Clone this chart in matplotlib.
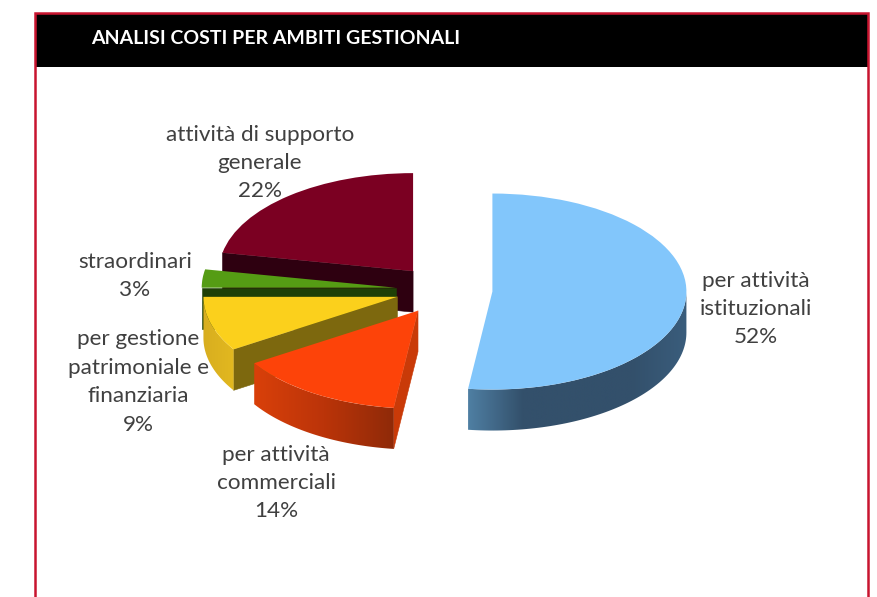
import numpy as np
import matplotlib
matplotlib.use('Agg')
import matplotlib.pyplot as plt
from matplotlib.colors import LinearSegmentedColormap
from matplotlib.patches import Polygon, Rectangle

plt.rcParams['font.family'] = ['Lato', 'DejaVu Sans']

titolo = 'ANALISI COSTI PER AMBITI GESTIONALI'

# clockwise from twelve o'clock, like the spreadsheet pie
ambiti = ['per attività\nistituzionali', 'per attività\ncommerciali',
          'per gestione\npatrimoniale e\nfinanziaria', 'straordinari',
          'attività di supporto\ngenerale']
valori = [52, 14, 9, 3, 22]
esplosione = [0.25, 0.25, 0.25, 0.25, 0.25]

colori = ['#82c6fb', '#fd4309', '#fbd01c', '#559c14', '#7b0022']
colori_taglio = ['#33506b', '#c93a08', '#7d680e', '#1f4006', '#2e0010']
colori_bordo = [['#4f7fa3', '#33506b', '#33506b', '#33506b', '#3a5d7c'],
                ['#d9400a', '#bb3409', '#8f2a08'],
                ['#d8ae1f', '#e2b820'],
                ['#3b6e0e', '#3b6e0e'],
                ['#3a0012', '#3a0012']]
ordine = [4, 3, 2, 1, 0]  # back to front

# label centres, in pixels
pos_etichette = [(756, 309), (276, 483), (138, 382), (135, 276), (260, 163)]

CX, CY, RX, RY = 444, 290, 194, 98
SPESSORE = 41 / RY

fig = plt.figure(figsize=(8.77, 5.97), dpi=100)

# page furniture drawn in pixel units
sfondo = fig.add_axes([0, 0, 1, 1])
sfondo.set_xlim(0, 877)
sfondo.set_ylim(597, 0)
sfondo.axis('off')
sfondo.add_patch(Rectangle((35, 13), 833, 54, fc='black', ec='none'))
rosso = '#c8142f'
sfondo.plot([35, 35, 868, 868], [597, 13, 13, 597], color=rosso, lw=1.8,
            solid_joinstyle='miter')
sfondo.text(91, 39, titolo, color='white', fontsize=14, fontweight='bold',
            va='center', ha='left')

# unit pie squashed into an ellipse by the axis limits
ax = fig.add_axes([0, 0, 1, 1])
ax.patch.set_alpha(0)
wedges, _ = ax.pie(valori, explode=esplosione, colors=colori, startangle=90,
                   counterclock=False, radius=1, wedgeprops={'linewidth': 0})

for prof, i in enumerate(ordine):
    w = wedges[i]
    cx, cy = w.center
    a1, a2 = w.theta1, w.theta2
    base = prof * 3 + 1

    # only the cut face turned towards the viewer is drawn
    if np.cos(np.radians(a2)) < -1e-6:
        px = cx + np.cos(np.radians(a2))
        py = cy + np.sin(np.radians(a2))
        ax.add_patch(Polygon([(cx, cy), (px, py), (px, py - SPESSORE), (cx, cy - SPESSORE)],
                             closed=True, fc=colori_taglio[i], ec=colori_taglio[i],
                             lw=0.4, zorder=base))

    # outer rim on the front half, shaded left to right
    da, a = max(a1, -180), min(a2, 0)
    if a > da:
        ang = np.radians(np.linspace(da, a, 80))
        xs = cx + np.cos(ang)
        ys = cy + np.sin(ang)
        contorno = np.vstack([np.column_stack([xs, ys]),
                              np.column_stack([xs, ys - SPESSORE])[::-1]])
        bordo = Polygon(contorno, closed=True, fc='none', ec='none', transform=ax.transData)
        ax.add_patch(bordo)
        cmap = LinearSegmentedColormap.from_list('bordo', colori_bordo[i])
        im = ax.imshow(np.linspace(0, 1, 256)[None, :], cmap=cmap, aspect='auto',
                       extent=[xs.min(), xs.max(), ys.min() - SPESSORE, ys.max()],
                       zorder=base + 1)
        im.set_clip_path(bordo)
    w.set_zorder(base + 2)

ax.set_aspect('auto')
ax.set_xlim(-CX / RX, (877 - CX) / RX)
ax.set_ylim((CY - 597) / RY, CY / RY)
ax.axis('off')

for nome, v, (x, y) in zip(ambiti, valori, pos_etichette):
    ax.text((x - CX) / RX, (CY - y) / RY, f'{nome}\n{v}%', ha='center', va='center',
            fontsize=16.2, color='#404040', linespacing=1.53, zorder=30)

fig.savefig('out.png', dpi=100)
